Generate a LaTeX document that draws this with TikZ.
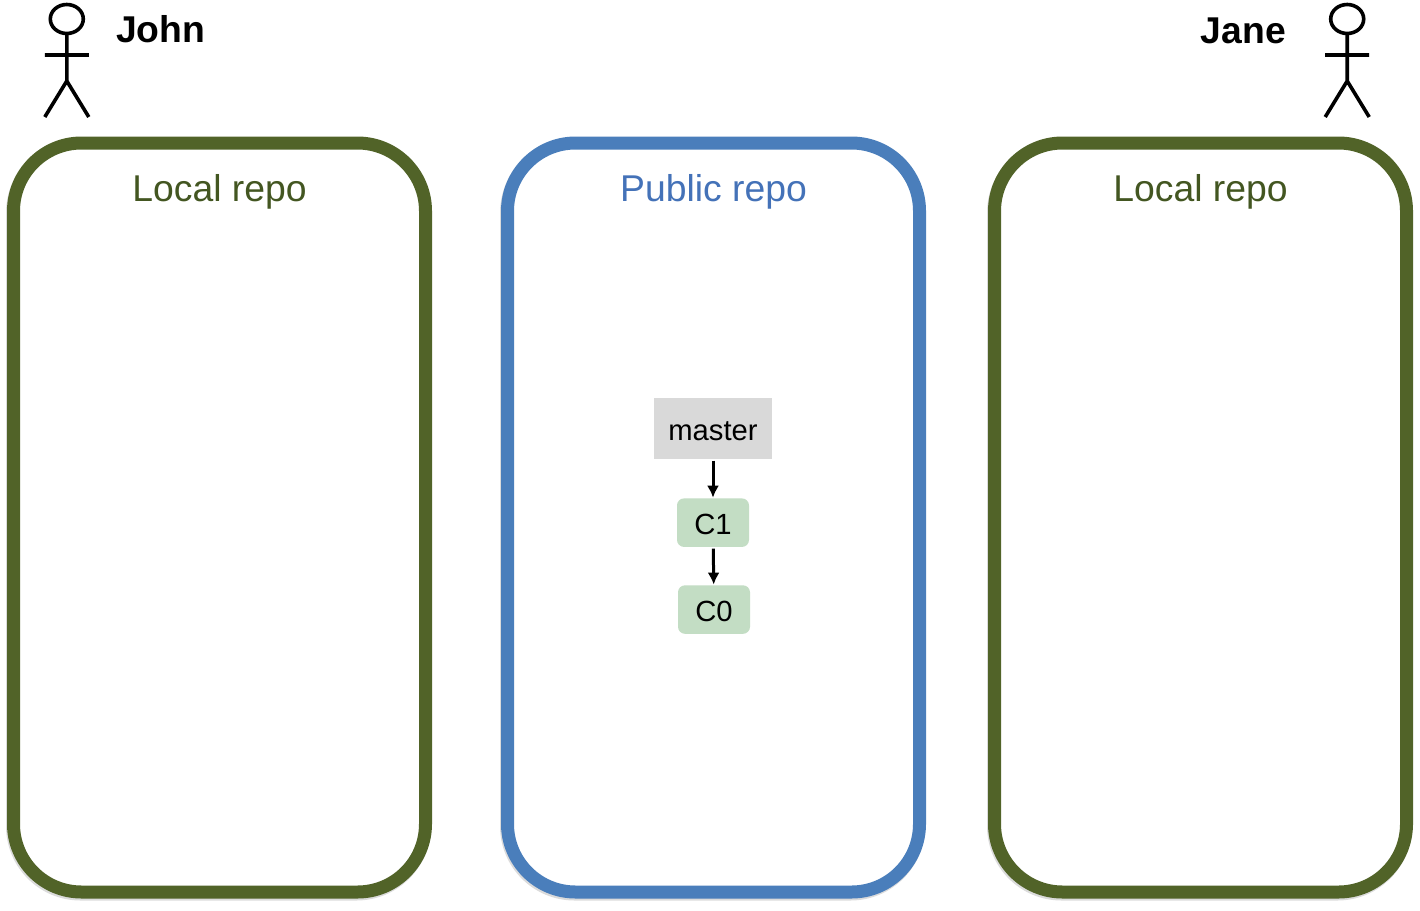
\documentclass[tikz,border=0pt]{standalone}
\usepackage{fontspec}
\setmainfont{Liberation Sans}
\usepackage{xcolor}
\usetikzlibrary{positioning,shadows,arrows.meta}
\definecolor{localgreen}{HTML}{516328}
\definecolor{localtext}{HTML}{435621}
\definecolor{publicblue}{HTML}{4A7EBB}
\definecolor{publictext}{HTML}{4472B8}
\definecolor{branchgray}{HTML}{D9D9D9}
\definecolor{commitgreen}{HTML}{C3DDC4}

\begin{document}
\begin{tikzpicture}[
    x=1pt, y=-1pt,
    repo/.style={rectangle, draw=#1, fill=white, line width=13pt, rounded corners=68pt, minimum width=412pt, minimum height=749pt, inner sep=0pt, outer sep=0pt, general shadow={fill=black, draw=black, line width=13pt, opacity=0.14, shadow xshift=-1pt, shadow yshift=-2pt}},
    title/.style={font=\fontsize{37.3}{40}\selectfont, text=#1, inner sep=0pt},
    person/.style={font=\fontsize{37.3}{40}\selectfont\bfseries, text=black, inner sep=0pt},
    branch/.style={rectangle, fill=branchgray, minimum width=118pt, minimum height=61pt, inner sep=0pt, text height=24pt, text depth=0pt, font=\fontsize{29.2}{32}\selectfont},
    commit/.style={rectangle, fill=commitgreen, rounded corners=7pt, minimum width=72pt, minimum height=48.5pt, inner sep=0pt, text height=23pt, text depth=0pt, font=\fontsize{29.2}{32}\selectfont},
    line/.style={draw, -{Latex[length=12pt,width=12pt]}, line width=3pt, shorten >=0.5pt, shorten <=1.5pt},
    stickman/.pic={
        \draw [line width=3.6pt] (0,19) ellipse [x radius=16.5pt, y radius=14.5pt];
        \draw [line width=3.6pt] (0,33.5) -- (0,81) (-22,55) -- (22,55) (-22,117) -- (0,81) -- (22,117);
    }
]

% Repositories
\node [repo=localgreen] (johnrepo) at (219.5,517.5) {};
\node [repo=publicblue, right=82pt of johnrepo] (publicrepo) {};
\node [repo=localgreen, right=75pt of publicrepo] (janerepo) {};

% Titles
\node [title=localtext, below=30pt of johnrepo.north] (johntitle) {\strut Local repo};
\node [title=publictext, below=30pt of publicrepo.north] (publictitle) {\strut Public repo};
\node [title=localtext, below=30pt of janerepo.north] (janetitle) {\strut Local repo};

% People
\pic at (66.8,0) {stickman};
\pic at (1347.2,0) {stickman};
\node [person, anchor=west] (john) at (116,29.5) {John};
\node [person, anchor=east] (jane) at (1286,31) {Jane};

% Commits
\node [branch] (master) at (713,428.5) {master};
\node [commit, below=39pt of master] (c1) {C1};
\node [commit, below=38pt of c1, xshift=1pt] (c0) {C0};

% Connectors
\path [line] (master) -- (c1);
\path [line] (c1) -- (c0);

\useasboundingbox (0,0) rectangle (1420,910);
\end{tikzpicture}
\end{document}
